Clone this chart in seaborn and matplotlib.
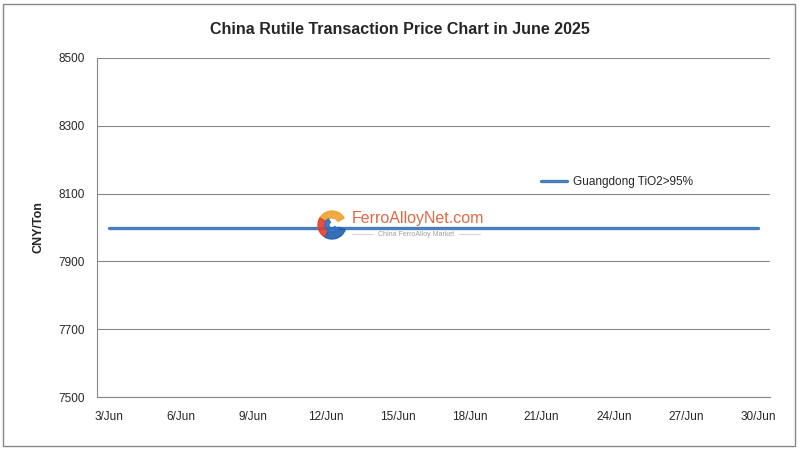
import matplotlib
matplotlib.use("Agg")
import matplotlib.pyplot as plt
import seaborn as sns
import pandas as pd
from matplotlib.patches import Rectangle, Wedge

days = list(range(3, 31))
dates = [f"{d}/Jun" for d in days]
prices = [8000] * len(days)
series_name = "Guangdong TiO2>95%"
yticks = [7500, 7700, 7900, 8100, 8300, 8500]

df = pd.DataFrame({"idx": range(len(days)), "date": dates, "price": prices, "series": series_name})

sns.set_theme(style="white")
plt.rcParams['font.family'] = ['Liberation Sans', 'DejaVu Sans']

fig = plt.figure(figsize=(7.99, 4.5), dpi=100)
ax = fig.add_axes([97/799, 1 - 397/450, (770-97)/799, (397-58)/450])

sns.lineplot(data=df, x="idx", y="price", hue="series", palette=["#4A7EBB"],
             linewidth=2.4, ax=ax)

ax.set_xlim(-0.5, len(days) - 0.5)
ax.set_ylim(7500, 8500)
ax.set_yticks(yticks)
ax.set_yticklabels([str(v) for v in yticks], fontsize=8.5)
tick_idx = list(range(0, len(days), 3))
ax.set_xticks(tick_idx)
ax.set_xticklabels([dates[i] for i in tick_idx], fontsize=8.5)
ax.tick_params(axis='y', length=0, pad=9)
ax.tick_params(axis='x', length=0, pad=10)
ax.grid(axis='y', color='#878787', linewidth=0.8)
ax.set_axisbelow(True)
for s in ['top', 'right']:
    ax.spines[s].set_visible(False)
for s in ['left', 'bottom']:
    ax.spines[s].set_color('#878787')
    ax.spines[s].set_linewidth(0.8)
ax.set_xlabel("")
ax.set_ylabel("CNY/Ton", fontsize=9, fontweight='bold', labelpad=10)

leg = ax.legend(loc='upper left', bbox_to_anchor=((536-97)/673, (397-171)/339),
                frameon=False, fontsize=8.5, handlelength=2.2, borderaxespad=0,
                handletextpad=0.5)

fig.text(0.5, 1 - 29/450, "China Rutile Transaction Price Chart in June 2025",
         ha='center', va='center', fontsize=11.5, fontweight='bold')

# Watermark logo
lx, ly = 332, 450 - 225
wax = fig.add_axes([0, 0, 1, 1], facecolor='none')
wax.set_xlim(0, 799)
wax.set_ylim(0, 450)
wax.axis('off')
wax.add_patch(Wedge((lx, ly), 14, 30, 150, width=7, color='#F0A030', alpha=0.9))
wax.add_patch(Wedge((lx, ly), 14, 150, 240, width=7, color='#E04030', alpha=0.9))
wax.add_patch(Wedge((lx, ly), 14, 240, 340, width=7, color='#2060B0', alpha=0.9))
wax.add_patch(Wedge((lx, ly), 7, 120, 330, width=4, color='#3070C0', alpha=0.9))
wax.text(352, 450 - 218, "FerroAlloyNet.com", fontsize=11.5, color='#E0603A',
         ha='left', va='center', alpha=0.95)
wax.text(416, 450 - 234, "China FerroAlloy Market", fontsize=5, color='#A0A0A0',
         ha='center', va='center')
wax.plot([352, 373], [450 - 234, 450 - 234], color='#C0C0C0', linewidth=0.5)
wax.plot([459, 480], [450 - 234, 450 - 234], color='#C0C0C0', linewidth=0.5)

# outer border
wax.add_patch(Rectangle((3, 4), 792, 442, fill=False, edgecolor='#878787', linewidth=1))

fig.savefig("out.png", dpi=100)
